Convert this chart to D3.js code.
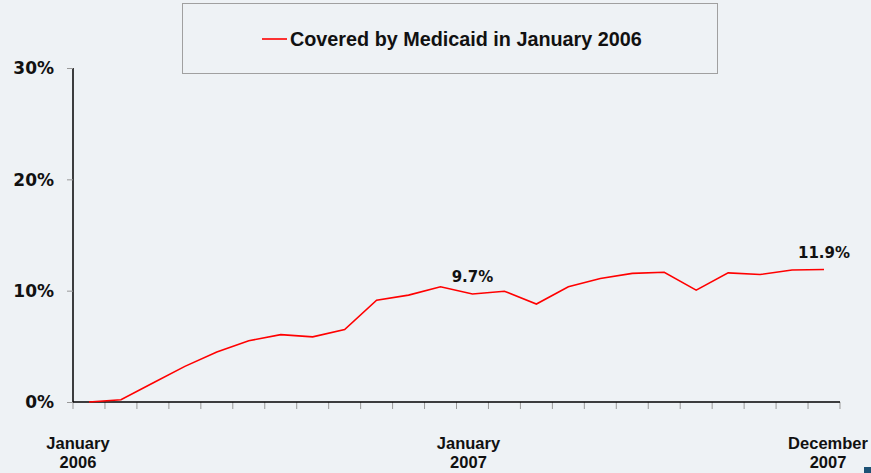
<!DOCTYPE html>
<html>
<head>
<meta charset="utf-8">
<script src="https://cdn.jsdelivr.net/npm/d3@7"></script>
<style>
  html, body { margin: 0; padding: 0; background: #eef2f5; }
  svg { display: block; }
  .ylab { font-family: "DejaVu Sans", Verdana, sans-serif; font-weight: bold; font-size: 17px; fill: #111; }
  .xlab { font-family: "Liberation Sans", Arial, sans-serif; font-weight: bold; font-size: 16.5px; fill: #111; }
  .legend-text { font-family: "Liberation Sans", Arial, sans-serif; font-weight: bold; font-size: 19.8px; fill: #111; }
  .value-label { font-family: "DejaVu Sans", Verdana, sans-serif; font-weight: bold; font-size: 15px; fill: #111; }
</style>
</head>
<body>
<div id="chart"></div>
<script>
const width = 871;
const height = 473;

// monthly share (%) of the January 2006 Medicaid group, Jan 2006 .. Dec 2007
const months = [
  "2006-01", "2006-02", "2006-03", "2006-04", "2006-05", "2006-06",
  "2006-07", "2006-08", "2006-09", "2006-10", "2006-11", "2006-12",
  "2007-01", "2007-02", "2007-03", "2007-04", "2007-05", "2007-06",
  "2007-07", "2007-08", "2007-09", "2007-10", "2007-11", "2007-12"
];
const covered = [
  0.0, 0.2, 1.7, 3.2, 4.5, 5.5, 6.05, 5.85, 6.5, 9.15, 9.6, 10.35,
  9.7, 9.95, 8.8, 10.35, 11.1, 11.55, 11.65, 10.05, 11.6, 11.45, 11.85, 11.9
];
const seriesName = "Covered by Medicaid in January 2006";
const yTicks = [0, 10, 20, 30];
// month -> two-line axis label
const xLabels = [
  {month: "2006-01", lines: ["January", "2006"], nudge: -11},
  {month: "2007-01", lines: ["January", "2007"], nudge: -4},
  {month: "2007-12", lines: ["December", "2007"], nudge: 4}
];
const labelled = ["2007-01", "2007-12"];

const margin = {top: 68, left: 73, bottom: 71, right: 31};

const svg = d3.select("#chart").append("svg")
    .attr("width", width)
    .attr("height", height);

svg.append("rect")
    .attr("width", width)
    .attr("height", height)
    .attr("fill", "#eef2f5");

const x = d3.scaleBand()
    .domain(months)
    .range([margin.left, width - margin.right]);

const y = d3.scaleLinear()
    .domain([0, 30])
    .range([height - margin.bottom, margin.top]);

const mid = m => x(m) + x.bandwidth() / 2;

// y axis: grey ticks, black line, bold percent labels
const yAxis = svg.append("g")
    .attr("transform", "translate(" + margin.left + ",0)")
    .call(d3.axisLeft(y).tickValues(yTicks).tickSize(6).tickFormat(d => d + "%"));
yAxis.select(".domain").attr("stroke", "#000").attr("stroke-width", 1.5)
    .attr("d", "M0," + y(30) + "V" + y(0));
yAxis.selectAll(".tick line").attr("stroke", "#999");
yAxis.selectAll(".tick text").attr("class", "ylab").attr("x", -19).attr("dy", "0.35em");

// x axis: ticks on band edges
const edges = months.map(m => x(m)).concat([x.range()[1]]);
const xAxis = svg.append("g")
    .attr("transform", "translate(0," + y(0) + ")");
xAxis.selectAll("line.tick")
    .data(edges)
    .enter().append("line")
    .attr("class", "tick")
    .attr("x1", d => d).attr("x2", d => d)
    .attr("y1", 0).attr("y2", 7)
    .attr("stroke", "#999");
xAxis.append("line")
    .attr("x1", x.range()[0]).attr("x2", x.range()[1])
    .attr("stroke", "#000").attr("stroke-width", 1.5);

// one text per label line
const xLines = xLabels.flatMap(d => d.lines.map((t, i) => ({t: t, i: i, d: d})));
svg.append("g").selectAll("text")
    .data(xLines)
    .enter().append("text")
    .attr("class", "xlab")
    .attr("text-anchor", "middle")
    .attr("x", p => mid(p.d.month) + p.d.nudge)
    .attr("y", p => y(0) + 47 + p.i * 19)
    .text(p => p.t);

// the line
const line = d3.line()
    .x((d, i) => mid(months[i]))
    .y(d => y(d));

svg.append("path")
    .datum(covered)
    .attr("fill", "none")
    .attr("stroke", "#ff0000")
    .attr("stroke-width", 1.6)
    .attr("d", line);

// value call-outs
svg.append("g").selectAll("text")
    .data(labelled)
    .enter().append("text")
    .attr("class", "value-label")
    .attr("text-anchor", "middle")
    .attr("x", m => mid(m))
    .attr("y", m => y(covered[months.indexOf(m)]) - 12)
    .text(m => d3.format(".1f")(covered[months.indexOf(m)]) + "%");

// legend box
const legend = svg.append("g");
legend.append("rect")
    .attr("x", 182.5).attr("y", 3.5)
    .attr("width", 535).attr("height", 70)
    .attr("fill", "#eef2f5")
    .attr("stroke", "#a0a0a0");
legend.append("line")
    .attr("x1", 262).attr("x2", 287)
    .attr("y1", 39).attr("y2", 39)
    .attr("stroke", "#ff0000").attr("stroke-width", 1.6);
legend.append("text")
    .attr("class", "legend-text")
    .attr("x", 290).attr("y", 46)
    .text(seriesName);

// small corner marker
svg.append("rect")
    .attr("x", 864).attr("y", 467)
    .attr("width", 8).attr("height", 6)
    .attr("fill", "#1d5275");
</script>
</body>
</html>
